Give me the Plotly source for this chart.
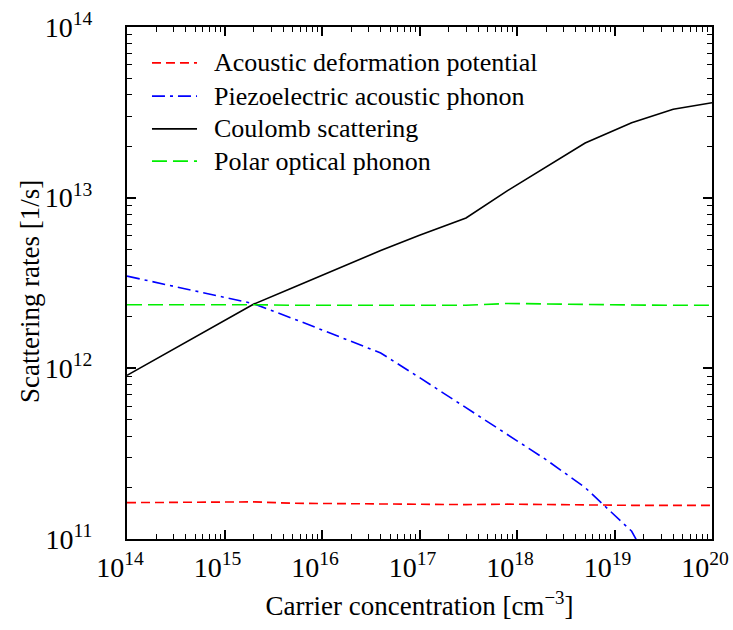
import plotly.graph_objects as go

# Carrier concentration grid [cm^-3]
concentration = [1e14, 3e14, 1.5e15, 2e15, 5e15, 4e16, 1e17, 3e17, 8e17, 2e18, 5e18, 1.5e19, 4e19, 1e20]

# Scattering rates [1/s] for each mechanism
acoustic_deformation = [1.633e11, 1.64e11, 1.655e11, 1.65e11, 1.62e11, 1.60e11, 1.59e11, 1.59e11,
                        1.60e11, 1.59e11, 1.58e11, 1.575e11, 1.575e11, 1.575e11]
piezoelectric = [3.47e12, 3.02e12, 2.47e12, 2.39e12, 1.96e12, 1.23e12, 8.83e11, 5.9e11,
                 4.1e11, 2.91e11, 2.0e11, 1.11e11, 4.0e10, 1.6e10]
coulomb = [9.1e11, 1.30e12, 2.18e12, 2.38e12, 2.97e12, 4.9e12, 6.03e12, 7.6e12,
           1.1e13, 1.51e13, 2.09e13, 2.75e13, 3.3e13, 3.6e13]
polar_optical = [2.36e12, 2.36e12, 2.37e12, 2.36e12, 2.34e12, 2.35e12, 2.35e12, 2.34e12,
                 2.40e12, 2.38e12, 2.36e12, 2.35e12, 2.34e12, 2.34e12]

series_names = ["Acoustic deformation potential", "Piezoelectric acoustic phonon",
                "Coulomb scattering", "Polar optical phonon"]

x_tickvals = [1e14, 1e15, 1e16, 1e17, 1e18, 1e19, 1e20]
x_ticktext = ["10<sup>14</sup>", "10<sup>15</sup>", "10<sup>16</sup>", "10<sup>17</sup>",
              "10<sup>18</sup>", "10<sup>19</sup>", "10<sup>20</sup>"]
y_tickvals = [1e11, 1e12, 1e13, 1e14]
y_ticktext = ["10<sup>11</sup>", "10<sup>12</sup>", "10<sup>13</sup>", "10<sup>14</sup>"]

FONT = "Liberation Serif, Times New Roman, serif"
PAD = "\u00a0\u00a0"  # trailing pad so the mantissa sits on the tick

fig = go.Figure()
styles = [
    (acoustic_deformation, "#ff0000", "9px,5px"),
    (piezoelectric, "#0000ff", "13px,5px,3px,5px"),
    (coulomb, "#000000", "solid"),
    (polar_optical, "#00ee00", "15px,6px"),
]
for name, (vals, color, dash) in zip(series_names, styles):
    fig.add_trace(go.Scatter(
        x=concentration, y=vals, mode="lines", name=name,
        line=dict(color=color, width=1.6, dash=dash),
        showlegend=False,
    ))

# Legend block inside the plot area: sample line + label per mechanism
legend_rows_y = [0.930, 0.865, 0.801, 0.738]
for (vals, color, dash), name, ly in zip(styles, series_names, legend_rows_y):
    fig.add_shape(type="line", xref="paper", yref="paper",
                  x0=0.0427, x1=0.1197, y0=ly, y1=ly,
                  line=dict(color=color, width=1.6, dash=dash))
    fig.add_annotation(xref="paper", yref="paper", x=0.1453, y=ly,
                       xanchor="left", yanchor="middle", showarrow=False,
                       text=name, font=dict(family=FONT, size=26, color="black"))

# Y-axis title placed as a rotated annotation
fig.add_annotation(xref="paper", yref="paper", x=-0.166, y=0.484,
                   xanchor="center", yanchor="middle", textangle=-90, showarrow=False,
                   text="Scattering rates [1/s]", font=dict(family=FONT, size=27, color="black"))

axis_common = dict(
    type="log",
    showline=True, linecolor="black", linewidth=2, mirror="allticks",
    ticks="inside", ticklen=9, tickwidth=1.5, tickcolor="black",
    showgrid=False, zeroline=False,
    minor=dict(ticks="inside", ticklen=5, tickwidth=1.2, tickcolor="black", dtick="D1", showgrid=False),
    tickfont=dict(family=FONT, size=28, color="black"),
    ticklabeloverflow="allow",
    automargin=False,
)

fig.update_xaxes(
    **axis_common,
    range=[14, 20],
    tickvals=x_tickvals, ticktext=[t + PAD for t in x_ticktext],
    ticklabelstandoff=2,
    title=dict(text="Carrier concentration [cm<sup>\u22123</sup>]",
               font=dict(family=FONT, size=27, color="black"), standoff=15),
)
fig.update_yaxes(
    **axis_common,
    range=[11, 14],
    tickvals=y_tickvals, ticktext=y_ticktext,
    ticklabelstandoff=27,
)

fig.update_layout(
    width=733, height=630,
    margin=dict(l=127, r=21, t=27, b=91),
    paper_bgcolor="white", plot_bgcolor="white",
    font=dict(family=FONT, color="black"),
    showlegend=False,
)

fig.write_html("out.html")
